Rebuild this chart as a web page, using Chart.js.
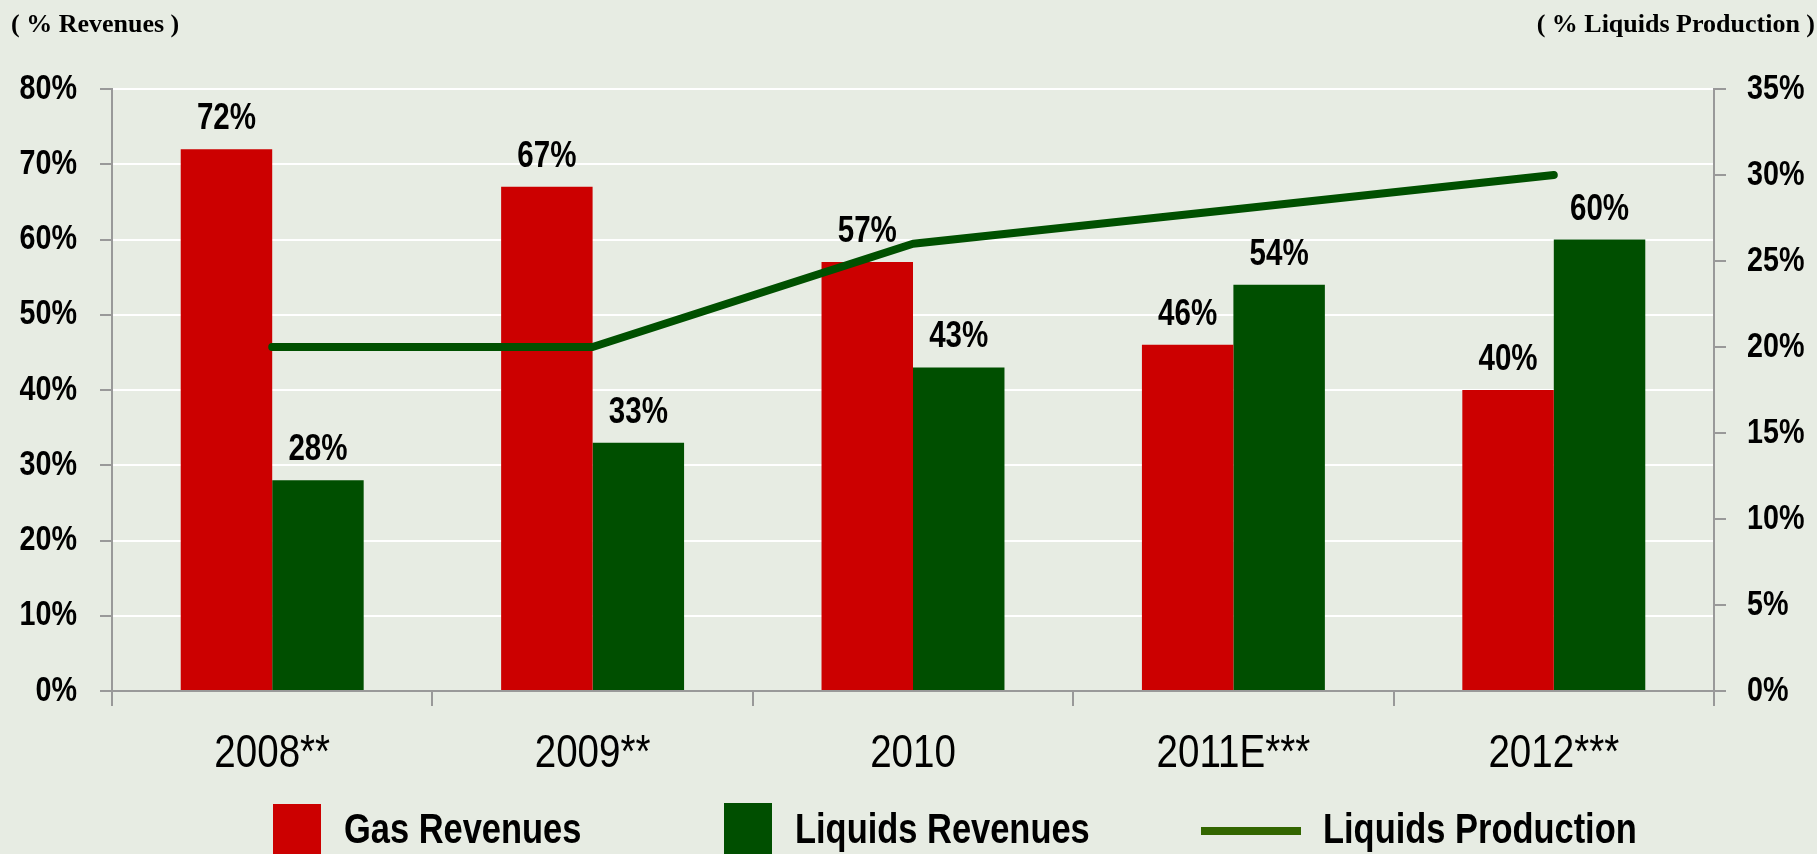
<!DOCTYPE html>
<html>
<head>
<meta charset="utf-8">
<script src="https://cdn.jsdelivr.net/npm/chart.js@4.4.1/dist/chart.umd.min.js"></script>
<style>
html,body{margin:0;padding:0;}
body{width:1817px;height:854px;overflow:hidden;position:relative;background:#e7ece3;
  font-family:'Liberation Sans',Arial,sans-serif;}
#wrap{position:absolute;left:0;top:0;width:1817px;height:854px;}
.t{position:absolute;font-family:'Liberation Serif','Times New Roman',serif;font-weight:bold;font-size:26px;line-height:26px;white-space:nowrap;color:#000;}
.lg{position:absolute;font-weight:bold;font-size:42px;line-height:42px;white-space:nowrap;color:#000;transform:scaleX(0.82);transform-origin:0 0;}
.sw{position:absolute;}
</style>
</head>
<body>
<div id="wrap"><canvas id="c" width="1817" height="854"></canvas></div>
<div class="t" style="left:11px;top:11px">( % Revenues )</div>
<div class="t" style="right:2px;top:11px">( % Liquids Production )</div>
<div class="sw" style="left:273px;top:804px;width:48px;height:50px;background:#cc0000"></div>
<div class="lg" style="left:344px;top:808px">Gas Revenues</div>
<div class="sw" style="left:724px;top:803px;width:48px;height:51px;background:#004f00"></div>
<div class="lg" style="left:795px;top:808px">Liquids Revenues</div>
<div class="sw" style="left:1201px;top:827px;width:100px;height:8px;background:#336600"></div>
<div class="lg" style="left:1323px;top:808px">Liquids Production</div>
<script>
const categories = ['2008**', '2009**', '2010', '2011E***', '2012***'];
const gasRevenues = [72, 67, 57, 46, 40];
const liquidsRevenues = [28, 33, 43, 54, 60];
const liquidsProduction = [20, 20, 26, 28, 30];
const seriesNames = ['Gas Revenues', 'Liquids Revenues', 'Liquids Production'];
const revenueTicks = [0, 10, 20, 30, 40, 50, 60, 70, 80];
const productionTicks = [0, 5, 10, 15, 20, 25, 30, 35];

const FONT = "'Liberation Sans',Arial,sans-serif";
const SX = 0.82; // horizontal squeeze to imitate a narrow face

function narrowText(ctx, text, x, y, font, align, baseline) {
  ctx.save();
  ctx.font = font;
  ctx.fillStyle = '#000';
  ctx.textAlign = align;
  ctx.textBaseline = baseline;
  ctx.translate(x, y);
  ctx.scale(SX, 1);
  ctx.fillText(text, 0, 0);
  ctx.restore();
}

const narrowLabels = {
  id: 'narrowLabels',
  afterDraw(chart) {
    const ctx = chart.ctx;
    const xs = chart.scales.x, ys = chart.scales.y, y1 = chart.scales.y1;
    revenueTicks.forEach(v => {
      narrowText(ctx, v + '%', ys.right - 12 - 23, ys.getPixelForValue(v), 'bold 35px ' + FONT, 'right', 'middle');
    });
    productionTicks.forEach(v => {
      narrowText(ctx, v + '%', y1.left + 12 + 21, y1.getPixelForValue(v), 'bold 35px ' + FONT, 'left', 'middle');
    });
    categories.forEach((c, i) => {
      narrowText(ctx, c, xs.getPixelForValue(i), xs.top + 76, '47px ' + FONT, 'center', 'alphabetic');
    });
    chart.data.datasets.forEach((ds, i) => {
      if (ds.type === 'line') return;
      const meta = chart.getDatasetMeta(i);
      meta.data.forEach((el, j) => {
        narrowText(ctx, ds.data[j] + '%', el.x, el.y - 20, 'bold 36px ' + FONT, 'center', 'alphabetic');
      });
    });
  }
};

new Chart(document.getElementById('c'), {
  type: 'bar',
  data: {
    labels: categories,
    datasets: [
      { type: 'line', label: seriesNames[2], data: liquidsProduction, yAxisID: 'y1', order: 0,
        borderColor: '#005000', borderWidth: 8, pointRadius: 0, pointHoverRadius: 0,
        borderCapStyle: 'round', borderJoinStyle: 'round', tension: 0, fill: false },
      { type: 'bar', label: seriesNames[0], data: gasRevenues, yAxisID: 'y', order: 1,
        backgroundColor: '#cc0000', borderWidth: 0, categoryPercentage: 0.571, barPercentage: 1.0 },
      { type: 'bar', label: seriesNames[1], data: liquidsRevenues, yAxisID: 'y', order: 1,
        backgroundColor: '#004f00', borderWidth: 0, categoryPercentage: 0.571, barPercentage: 1.0 }
    ]
  },
  options: {
    responsive: false,
    animation: false,
    devicePixelRatio: 1,
    layout: { padding: { left: 18, right: 0, top: 89, bottom: 0 } },
    plugins: { legend: { display: false }, tooltip: { enabled: false } },
    scales: {
      x: {
        grid: { display: true, drawOnChartArea: false, drawTicks: true, tickLength: 15, tickColor: '#999', tickWidth: 2, lineWidth: 2, offset: true },
        border: { color: '#999', width: 2, z: 1 },
        ticks: { display: false },
        afterFit: s => { s.height = 163; }
      },
      y: {
        position: 'left', min: 0, max: 80,
        grid: { color: ctx => ctx.tick && ctx.tick.value === 0 ? 'rgba(0,0,0,0)' : '#ffffff', lineWidth: 2, tickColor: '#999', tickWidth: 2, tickLength: 12, drawTicks: true },
        border: { color: '#999', width: 2 },
        ticks: { display: false, stepSize: 10 },
        afterFit: s => { s.width = 94; }
      },
      y1: {
        position: 'right', min: 0, max: 35,
        grid: { drawOnChartArea: false, tickColor: '#999', tickWidth: 2, lineWidth: 2, tickLength: 12, drawTicks: true },
        border: { color: '#999', width: 2 },
        ticks: { display: false, stepSize: 5 },
        afterFit: s => { s.width = 103; }
      }
    }
  },
  plugins: [narrowLabels]
});
</script>
</body>
</html>
